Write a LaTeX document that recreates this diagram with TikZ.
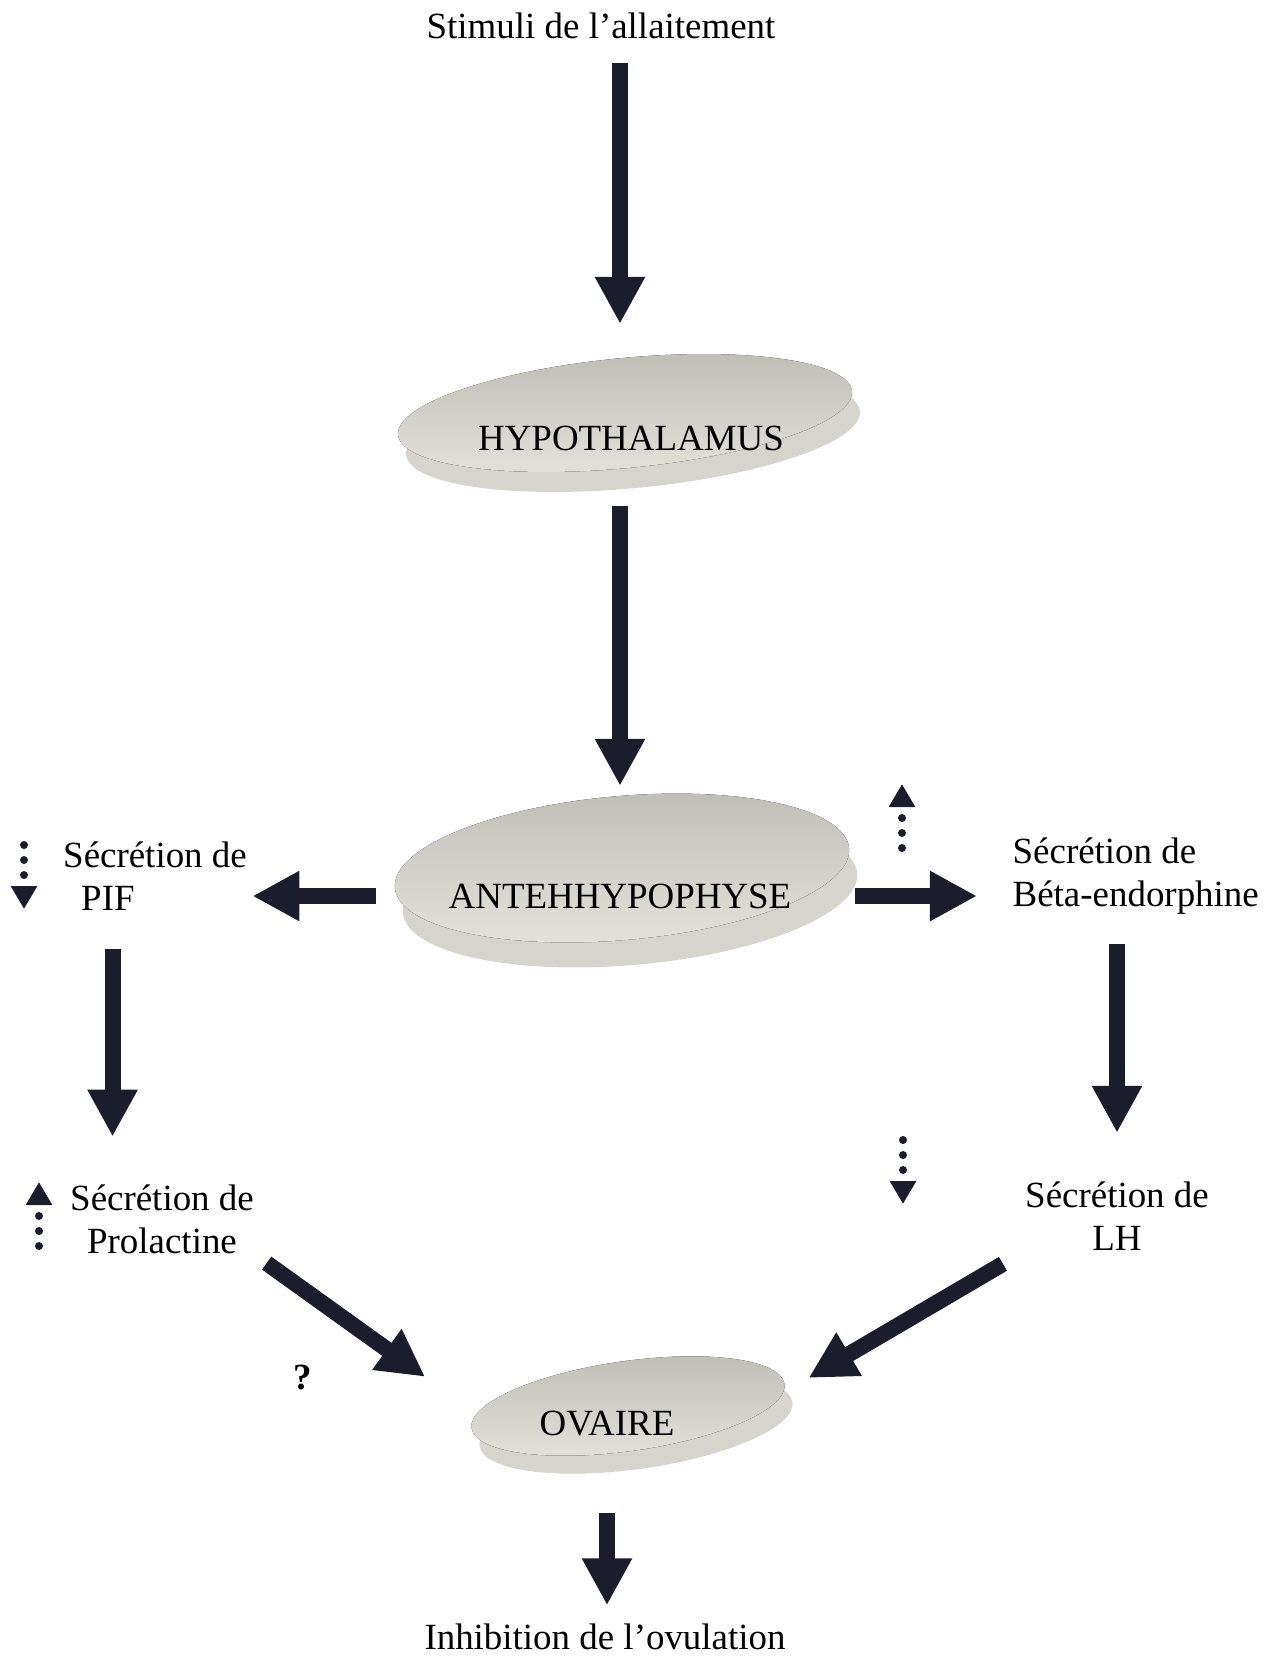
\documentclass[tikz,border=0pt]{standalone}
\usepackage{fontspec}
\setmainfont{Liberation Serif}
\usepackage{tikz}
\usetikzlibrary{arrows.meta, calc, positioning}

\definecolor{arrowcol}{RGB}{27,29,44}
\definecolor{disctop}{RGB}{192,192,185}
\definecolor{discbot}{RGB}{229,228,219}
\definecolor{discdark}{RGB}{214,213,205}

\begin{document}
\begin{tikzpicture}[x=0.01cm, y=-0.01cm,
	every node/.style={inner sep=0pt, font=\fontsize{10.5}{12.3}\selectfont},
	bigarrow/.style={draw=arrowcol, line width=0.16cm, -{Triangle[width=0.47cm, length=0.47cm]}},
	dotarrow/.style={draw=arrowcol, line width=0.08cm, line cap=round, dash pattern=on 0pt off 0.15cm, -{Triangle[width=0.25cm, length=0.23cm]}},
	discside/.style={fill=discdark},
	discface/.style={top color=disctop, bottom color=discbot}]
	
	\useasboundingbox (0,0) rectangle (1279,1656);
	
	% discs
	\fill[discside, rotate around={5.5:(633,433)}] (633,433) ellipse [x radius=228, y radius=55];
	\fill[discface, rotate around={5.5:(625,413)}] (625,413) ellipse [x radius=228, y radius=55];
	
	\fill[discside, rotate around={5:(630,893)}] (630,893) ellipse [x radius=228, y radius=72];
	\fill[discface, rotate around={5:(622,868)}] (622,868) ellipse [x radius=228, y radius=72];
	
	\fill[discside, rotate around={8:(636,1424)}] (636,1424) ellipse [x radius=158, y radius=45];
	\fill[discface, rotate around={8:(628,1406)}] (628,1406) ellipse [x radius=158, y radius=45];
	
	% texts
	\node (stim) at (601,26) {Stimuli de l’allaitement};
	\node (hypo) at (631,438) {HYPOTHALAMUS};
	\node (ante) at (620,896) {ANTEHHYPOPHYSE};
	\node[align=left] (pif) at (155,876) {Sécrétion de\\\hspace*{0.18cm}PIF};
	\node[align=left, anchor=west] (beta) at (1012,876) {Sécrétion de\\Béta-endorphine};
	\node[align=center] (prl) at (162,1219) {Sécrétion de\\Prolactine};
	\node[align=center] (lh) at (1117,1216) {Sécrétion de\\LH};
	\node (ovaire) at (607,1424) {OVAIRE};
	\node[font=\fontsize{10.5}{12.3}\selectfont\bfseries] (q) at (303,1378) {?};
	\node (inhib) at (605,1637) {Inhibition de l’ovulation};
	
	% arrows
	\draw[bigarrow, shorten <=0.23cm, shorten >=1.01cm] (stim.south -| ante) -- (hypo.north -| ante);
	\draw[bigarrow, shorten <=0.55cm, shorten >=0.97cm] (hypo.south -| ante) -- (ante.north);
	\draw[bigarrow, shorten <=0.72cm, shorten >=0.05cm] (ante.west) -- (ante.west -| pif.east);
	\draw[bigarrow, shorten <=0.63cm, shorten >=0.35cm] (ante.east) -- (ante.east -| beta.west);
	\draw[bigarrow, shorten <=0.38cm, shorten >=0.47cm] ($(pif.south west)+(50,0)$) -- ($(pif.south west |- prl.north)+(50,0)$);
	\draw[bigarrow, shorten <=0.29cm, shorten >=0.48cm] (beta.south -| lh.north) -- (lh.north);
	\draw[bigarrow, shorten <=0.15cm, shorten >=0.81cm] (prl.south east) -- ($(ovaire.west)+(-48,0)$);
	\draw[bigarrow, shorten <=0.25cm, shorten >=0.91cm] (lh.south west) -- ($(ovaire.east)+(55,0)$);
	\draw[bigarrow, shorten <=0.76cm, shorten >=0.18cm] (ovaire.south) -- (ovaire.south |- inhib.north);
	
	% up / down markers
	\draw[dotarrow] (24,845) -- (24,909);
	\draw[dotarrow] (39,1246) -- (39,1182);
	\draw[dotarrow] (902,848) -- (902,784);
	\draw[dotarrow] (903,1140) -- (903,1204);
\end{tikzpicture}
\end{document}
